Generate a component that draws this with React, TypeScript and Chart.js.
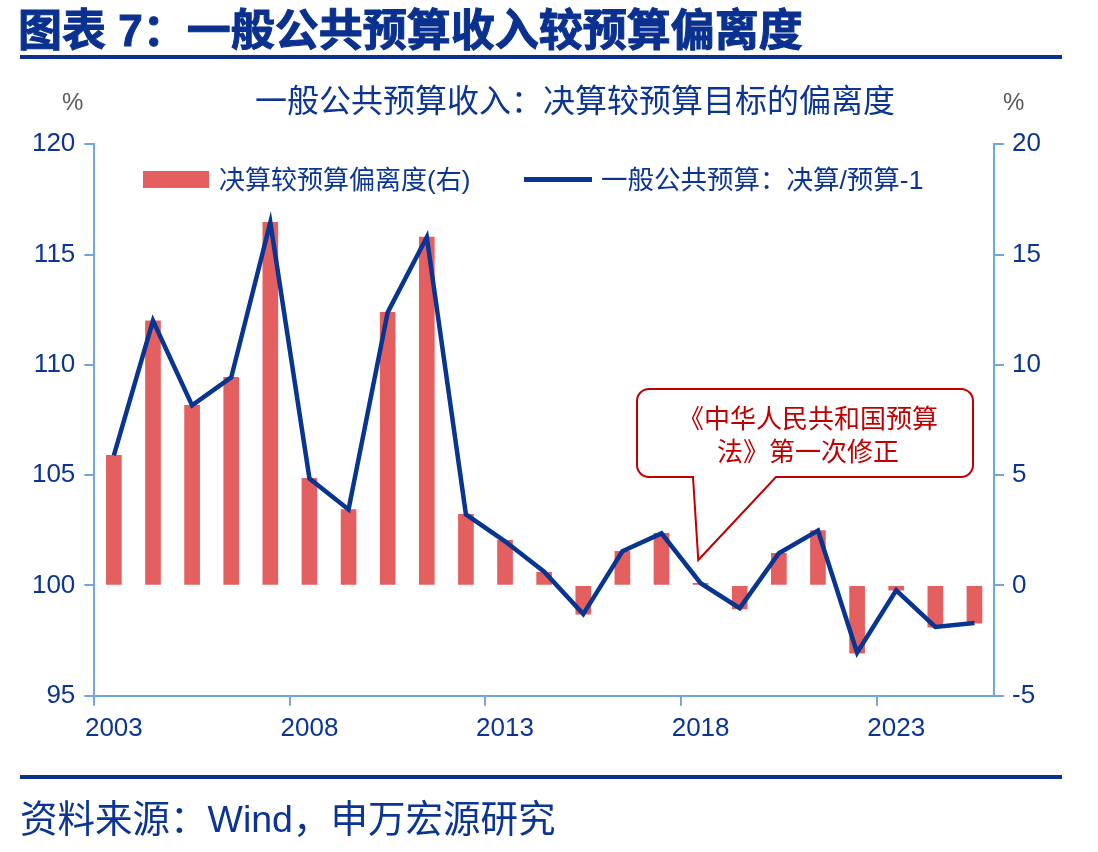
import React, { useEffect, useRef } from "react";
import { Chart, registerables } from "chart.js";

Chart.register(...registerables);

// Fiscal years shown on the x axis
const years = [
  "2003", "2004", "2005", "2006", "2007", "2008", "2009", "2010", "2011",
  "2012", "2013", "2014", "2015", "2016", "2017", "2018", "2019", "2020",
  "2021", "2022", "2023", "2024", "2025",
];

// 决算较预算偏离度 (%), right axis
const deviation = [
  5.9, 12.0, 8.16, 9.43, 16.46, 4.85, 3.44, 12.38, 15.79, 3.22, 2.04, 0.59,
  -1.3, 1.54, 2.36, 0.09, -1.07, 1.46, 2.49, -3.07, -0.22, -1.89, -1.71,
];

// 一般公共预算：决算/预算 (%), left axis
const ratio = [
  105.9, 112.0, 108.16, 109.43, 116.46, 104.85, 103.44, 112.38, 115.79,
  103.22, 102.0, 100.62, 98.7, 101.55, 102.36, 100.1, 98.97, 101.46, 102.49,
  96.95, 99.78, 98.12, 98.3,
];

// every fifth year gets a label and a tick mark
const xLabelStep = 5;
const leftTicks = [95, 100, 105, 110, 115, 120];
const rightTicks = [-5, 0, 5, 10, 15, 20];

const barLabel = "决算较预算偏离度(右)";
const lineLabel = "一般公共预算：决算/预算-1";
const calloutLines = ["《中华人民共和国预算", "法》第一次修正"];
// Where the callout points: (category index, deviation %)
const calloutTip = { x: 14.94, y: 1.15 };

const FONT = '"Liberation Sans", "Noto Sans CJK SC", sans-serif';
const CJK_FONT = '"Noto Sans CJK SC", "Liberation Sans", sans-serif';
const NAVY = "#0b3494";
const TITLE_NAVY = "#0a3190";
const LINE_BLUE = "#083592";
const BAR_RED = "#e45f5f";
const AXIS_BLUE = "#6fa6dc";
const CALLOUT_RED = "#c00000";

const W = 1098;
const H = 852;
const AREA = { left: 94.3, right: 994, top: 144.3, bottom: 695.7 };

const calloutPlugin = {
  id: "callout",
  afterDatasetsDraw(chart: any) {
    const ctx = chart.ctx as CanvasRenderingContext2D;
    const tipX = chart.scales.x.getPixelForValue(calloutTip.x);
    const tipY = chart.scales.y1.getPixelForValue(calloutTip.y);
    const l = 637, t = 389, r = 973, b = 477, rad = 12;
    const baseL = 693, baseR = 776;
    ctx.save();
    ctx.beginPath();
    ctx.moveTo(l + rad, t);
    ctx.lineTo(r - rad, t);
    ctx.arcTo(r, t, r, t + rad, rad);
    ctx.lineTo(r, b - rad);
    ctx.arcTo(r, b, r - rad, b, rad);
    ctx.lineTo(baseR, b);
    ctx.lineTo(tipX, tipY);
    ctx.lineTo(baseL, b);
    ctx.lineTo(l + rad, b);
    ctx.arcTo(l, b, l, b - rad, rad);
    ctx.lineTo(l, t + rad);
    ctx.arcTo(l, t, l + rad, t, rad);
    ctx.closePath();
    ctx.fillStyle = "#ffffff";
    ctx.fill();
    ctx.lineWidth = 2;
    ctx.strokeStyle = CALLOUT_RED;
    ctx.lineJoin = "miter";
    ctx.stroke();
    ctx.fillStyle = CALLOUT_RED;
    ctx.font = `26px ${CJK_FONT}`;
    ctx.textAlign = "center";
    ctx.textBaseline = "middle";
    const cx = (l + r) / 2 + 3;
    ctx.fillText(calloutLines[0], cx, 418);
    ctx.fillText(calloutLines[1], cx, 451);
    ctx.restore();
  },
};

const tickFont = { size: 26, family: FONT };
const axisGrid = {
  drawOnChartArea: false,
  drawTicks: true,
  tickLength: 10,
  color: AXIS_BLUE,
  lineWidth: 2,
};
const axisBorder = { color: AXIS_BLUE, width: 2 };

function BudgetChart() {
  const ref = useRef<HTMLCanvasElement | null>(null);

  useEffect(() => {
    if (!ref.current) return;
    const chart = new Chart(ref.current, {
      type: "bar",
      data: {
        labels: years,
        datasets: [
          {
            type: "line",
            label: lineLabel,
            data: ratio,
            yAxisID: "y",
            borderColor: LINE_BLUE,
            borderWidth: 4.5,
            pointRadius: 0,
            tension: 0,
            order: 0,
          } as any,
          {
            type: "bar",
            label: barLabel,
            data: deviation,
            yAxisID: "y1",
            backgroundColor: BAR_RED,
            barThickness: 15,
            order: 1,
          } as any,
        ],
      },
      options: {
        responsive: false,
        animation: false,
        events: [],
        layout: { padding: { top: AREA.top, left: 0, right: 0, bottom: 0 } },
        plugins: {
          legend: { display: false },
          tooltip: { enabled: false },
          title: { display: false },
        },
        scales: {
          x: {
            type: "category",
            offset: true,
            afterFit: (s: any) => {
              s.height = H - AREA.bottom;
            },
            ticks: {
              font: tickFont,
              color: NAVY,
              padding: 8,
              maxRotation: 0,
              autoSkip: false,
              callback: (_v: any, i: number) =>
                i % xLabelStep === 0 ? years[i] : "",
            },
            grid: {
              ...axisGrid,
              offset: true,
              tickColor: (c: any) =>
                c.index % xLabelStep === 0 && c.index < years.length
                  ? AXIS_BLUE
                  : "rgba(0,0,0,0)",
            },
            border: axisBorder,
          },
          y: {
            type: "linear",
            position: "left",
            min: 95,
            max: 120,
            afterBuildTicks: (s: any) => {
              s.ticks = leftTicks.map((v) => ({ value: v }));
            },
            afterFit: (s: any) => {
              s.width = AREA.left;
            },
            ticks: {
              font: tickFont,
              color: NAVY,
              padding: 9,
              callback: (v: any) => String(v),
            },
            grid: axisGrid,
            border: axisBorder,
          },
          y1: {
            type: "linear",
            position: "right",
            min: -5,
            max: 20,
            afterBuildTicks: (s: any) => {
              s.ticks = rightTicks.map((v) => ({ value: v }));
            },
            afterFit: (s: any) => {
              s.width = W - AREA.right;
            },
            ticks: {
              font: tickFont,
              color: NAVY,
              padding: 8,
              callback: (v: any) => String(v),
            },
            grid: axisGrid,
            border: axisBorder,
          },
        },
      } as any,
      plugins: [calloutPlugin],
    });
    return () => chart.destroy();
  }, []);

  return (
    <canvas
      ref={ref}
      width={W}
      height={H}
      style={{ position: "absolute", left: 0, top: 0, width: W, height: H }}
    />
  );
}

const textBase: React.CSSProperties = {
  position: "absolute",
  whiteSpace: "nowrap",
  lineHeight: 1,
  margin: 0,
  fontFamily: FONT,
};

export default function App() {
  return (
    <div
      style={{
        position: "absolute",
        left: 0,
        top: 0,
        width: W,
        height: H,
        background: "#ffffff",
        overflow: "hidden",
      }}
    >
      <BudgetChart />
      <div
        style={{
          ...textBase,
          left: 18,
          top: 9,
          fontSize: 44,
          fontWeight: 700,
          color: TITLE_NAVY,
          WebkitTextStroke: `1px ${TITLE_NAVY}`,
        }}
      >
        图表 7：一般公共预算收入较预算偏离度
      </div>
      <div
        style={{
          position: "absolute",
          left: 20,
          top: 55,
          width: 1042,
          height: 4,
          background: TITLE_NAVY,
        }}
      />
      <div
        style={{
          ...textBase,
          left: 0,
          width: 1150,
          textAlign: "center",
          top: 85,
          fontSize: 32,
          color: NAVY,
        }}
      >
        一般公共预算收入：决算较预算目标的偏离度
      </div>
      <div style={{ ...textBase, left: 62, top: 90, fontSize: 24, color: "#595959" }}>%</div>
      <div style={{ ...textBase, left: 1003, top: 90, fontSize: 24, color: "#595959" }}>%</div>

      {/* legend */}
      <div
        style={{
          position: "absolute",
          left: 143,
          top: 171,
          width: 66,
          height: 17,
          background: BAR_RED,
        }}
      />
      <div style={{ ...textBase, left: 219, top: 167, fontSize: 26, color: NAVY }}>
        {barLabel}
      </div>
      <div
        style={{
          position: "absolute",
          left: 524,
          top: 177,
          width: 68,
          height: 5,
          background: LINE_BLUE,
        }}
      />
      <div style={{ ...textBase, left: 601, top: 167, fontSize: 26.5, color: NAVY }}>
        {lineLabel}
      </div>

      <div
        style={{
          position: "absolute",
          left: 20,
          top: 775,
          width: 1042,
          height: 4,
          background: TITLE_NAVY,
        }}
      />
      <div style={{ ...textBase, left: 20, top: 801, fontSize: 37.5, color: NAVY }}>
        资料来源：Wind，申万宏源研究
      </div>
    </div>
  );
}
